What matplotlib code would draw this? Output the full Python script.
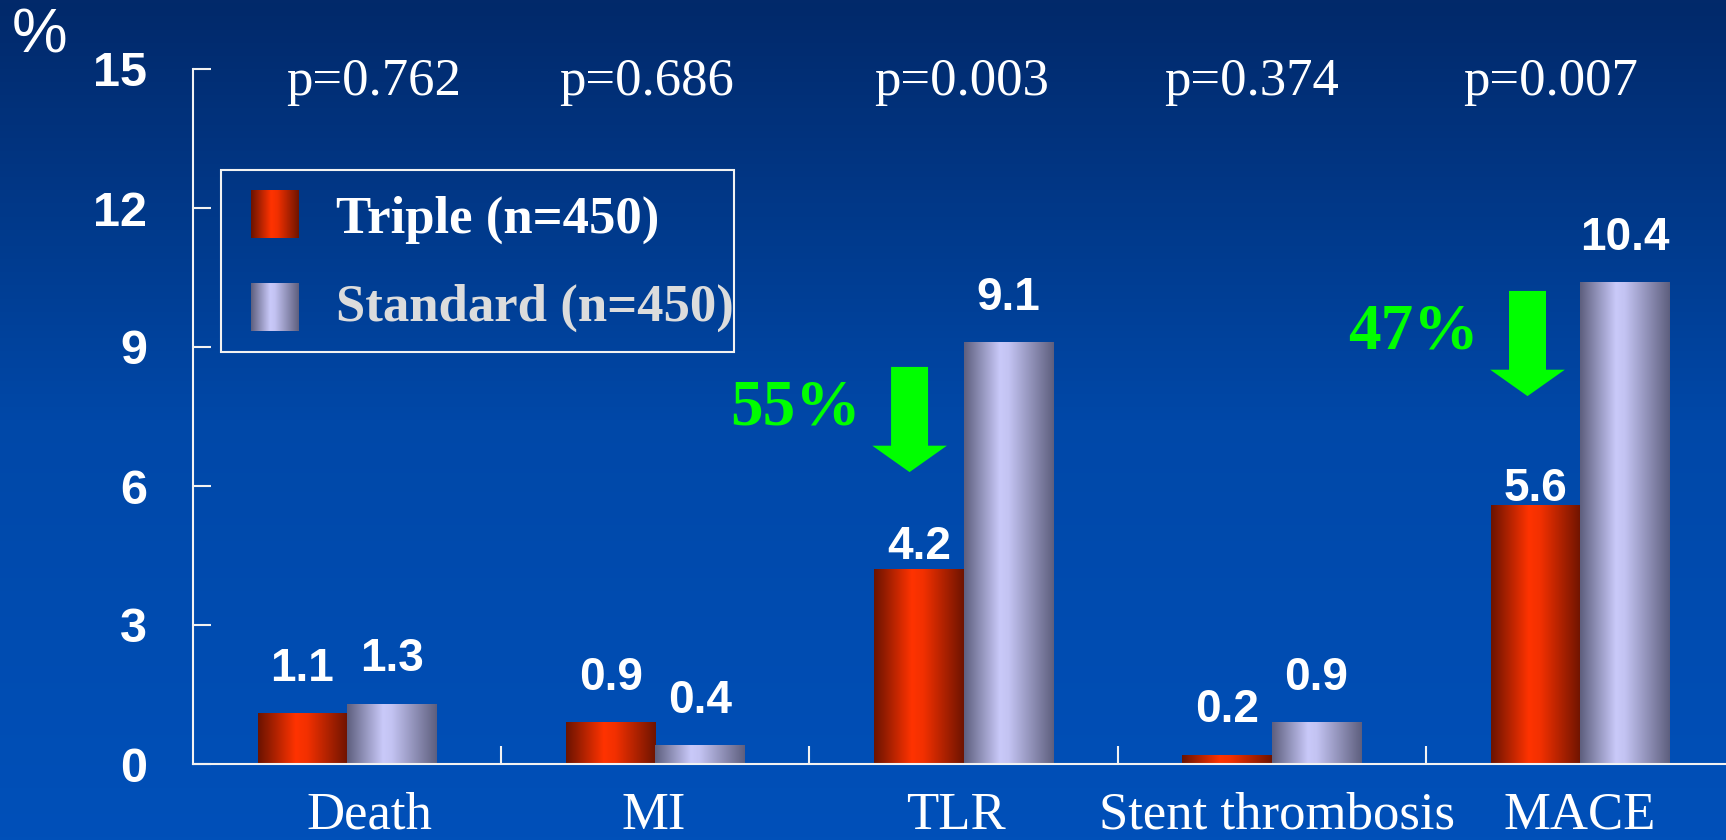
import numpy as np
import matplotlib
matplotlib.use("Agg")
import matplotlib.pyplot as plt
from matplotlib.colors import LinearSegmentedColormap
from matplotlib.patches import Rectangle, Polygon

categories = ["Death", "MI", "TLR", "Stent thrombosis", "MACE"]
triple = [1.1, 0.9, 4.2, 0.2, 5.6]
standard = [1.3, 0.4, 9.1, 0.9, 10.4]
p_values = ["p=0.762", "p=0.686", "p=0.003", "p=0.374", "p=0.007"]
series_names = ["Triple (n=450)", "Standard (n=450)"]
y_ticks = [0, 3, 6, 9, 12, 15]
reductions = ["55%", "47%"]
reduction_cats = [2, 4]

SANS = "Liberation Sans"
SERIF = "Liberation Serif"
W, H = 1726, 840

# small horizontal nudges for the text rows
p_shift = [0.086, -0.029, -0.007, -0.064, -0.096]
cat_shift = [0.071, -0.004, -0.025, 0.018, 0.0]
label_lift = [[0.7, 0.7, 0.22, 0.7, 0.08], [0.7] * 5]
arrow_tips = [6.30, 7.94]
arrow_x = [1.825, 3.83]

red_cmap = LinearSegmentedColormap.from_list(
    "red_bar", [(0, "#6a1300"), (0.42, "#ff3300"), (0.55, "#f23000"), (1, "#6e1400")])
gray_cmap = LinearSegmentedColormap.from_list(
    "gray_bar", [(0, "#5e5f7e"), (0.4, "#c9c9f9"), (0.5, "#c3c3f2"), (1, "#5e5f7e")])
bg_cmap = LinearSegmentedColormap.from_list("bg", ["#0050b9", "#0048a8", "#02296a"])

fig = plt.figure(figsize=(W / 100, H / 100), dpi=100)

# background gradient
bg = fig.add_axes([0, 0, 1, 1], zorder=0)
bg.imshow(np.linspace(0, 1, 256)[:, None], extent=[0, 1, 0, 1], aspect="auto",
          cmap=bg_cmap, origin="lower")
bg.axis("off")

ax = fig.add_axes([193 / W, 76 / H, 1541 / W, 695 / H], zorder=1)
ax.patch.set_alpha(0)

x = np.arange(len(categories))
width = 0.29
grad = np.linspace(0, 1, 256)[None, :]
for vals, offs, cmap in [(triple, -width / 2, red_cmap), (standard, width / 2, gray_cmap)]:
    bars = ax.bar(x + offs, vals, width, color="none", zorder=2)
    for b in bars:
        x0, y0 = b.get_x(), b.get_y()
        im = ax.imshow(grad, extent=[x0, x0 + b.get_width(), y0, y0 + b.get_height()],
                       aspect="auto", cmap=cmap, zorder=2)
        im.set_clip_path(b)

for s, vals, offs in [(0, triple, -width / 2), (1, standard, width / 2)]:
    for i, v in enumerate(vals):
        ax.text(x[i] + offs, v + label_lift[s][i], f"{v:g}", ha="center", va="baseline",
                color="white", fontsize=33, fontweight="bold", family=SANS, zorder=3)

for i, p in enumerate(p_values):
    ax.text(x[i] + p_shift[i], 14.43, p, ha="center", va="baseline", color="white",
            fontsize=38, family=SERIF, clip_on=False)

for i, c in enumerate(categories):
    ax.text(x[i] + cat_shift[i], -1.40, c, ha="center", va="baseline", color="white",
            fontsize=38, family=SERIF, clip_on=False)

# green reduction arrows
for xc, tip, txt in zip(arrow_x, arrow_tips, reductions):
    sw, hw, hl, sl = 0.06, 0.121, 0.57, 1.7
    pts = [(xc - sw, tip + hl + sl), (xc + sw, tip + hl + sl), (xc + sw, tip + hl),
           (xc + hw, tip + hl), (xc, tip), (xc - hw, tip + hl), (xc - sw, tip + hl)]
    ax.add_patch(Polygon(pts, closed=True, color="#00ff00", lw=0, zorder=3))
    ax.text(xc - 0.37, tip + hl + sl - 1.24, txt, ha="center", va="baseline",
            color="#00ff00", fontsize=47, fontweight="bold", family=SERIF)

ax.set_xlim(-0.5, 4.5)
ax.set_ylim(0, 15)
ax.set_yticks(y_ticks)
ax.set_xticks(x[:-1] + 0.5)
ax.set_xticklabels([])
for side in ["top", "right"]:
    ax.spines[side].set_visible(False)
for side in ["left", "bottom"]:
    ax.spines[side].set_color("#f2f2f2")
    ax.spines[side].set_linewidth(1.5)
ax.tick_params(axis="both", direction="in", length=13, width=1.5, color="#f2f2f2")
ax.tick_params(axis="y", pad=33, labelcolor="white", labelsize=35)
for t in ax.get_yticklabels():
    t.set_fontfamily(SANS)
    t.set_fontweight("bold")

fig.text(40 / W, 1 - 36 / H, "%", ha="center", va="center", color="white",
         fontsize=45, family=SANS)

# legend box
fig.patches.append(Rectangle((221 / W, 1 - 352 / H), 513 / W, 182 / H, fill=False,
                             ec="#f2f2f2", lw=1.5, transform=fig.transFigure, zorder=2))
handle_y = [190, 283]
text_base = [233, 321]
text_colors = ["white", "#dcdcdc"]
for name, cmap, hy, tb, tc in zip(series_names, [red_cmap, gray_cmap], handle_y,
                                  text_base, text_colors):
    hax = fig.add_axes([251 / W, 1 - (hy + 48) / H, 48 / W, 48 / H], zorder=2)
    hax.imshow(grad, aspect="auto", cmap=cmap)
    hax.axis("off")
    fig.text(336 / W, 1 - tb / H, name, ha="left", va="baseline", color=tc,
             fontsize=38, fontweight="bold", family=SERIF, zorder=3)

fig.savefig("out.png", dpi=100)
